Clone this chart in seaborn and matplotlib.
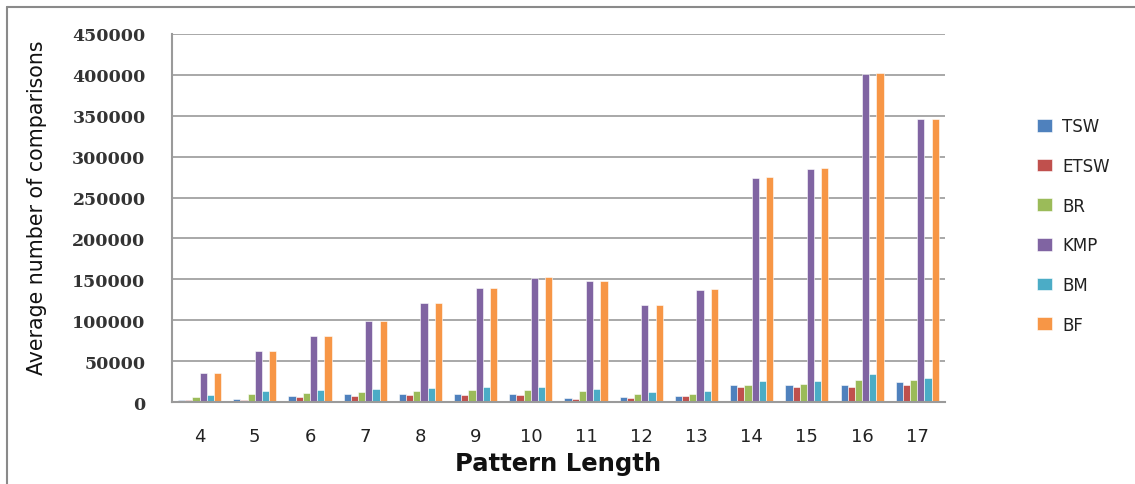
import pandas as pd
import matplotlib.pyplot as plt
import matplotlib.ticker as mticker
from matplotlib.lines import Line2D
import seaborn as sns
import numpy as np

# Data
lengths = [4, 5, 6, 7, 8, 9, 10, 11, 12, 13, 14, 15, 16, 17]
algos = ["TSW", "ETSW", "BR", "KMP", "BM", "BF"]

tsw = [2800, 3700, 7000, 9400, 10200, 9800, 9400, 4900, 6100, 7700, 20300, 20700, 20700, 24000]
etsw = [2500, 2000, 6500, 7700, 9000, 8100, 8100, 3700, 4900, 6900, 18300, 18300, 18700, 21100]
br = [5700, 9800, 11000, 12200, 13400, 14600, 14600, 13000, 9800, 10200, 20300, 21500, 27200, 26800]
kmp = [36000, 62000, 80500, 99500, 121000, 139500, 152000, 148000, 118500, 137500, 274000, 285000, 400500, 345500]
bm = [9000, 13000, 14200, 15400, 16700, 17900, 17900, 15900, 11800, 13000, 25600, 25600, 34600, 28900]
bf = [36000, 62000, 80500, 99500, 121000, 140000, 152500, 148500, 119000, 138000, 275000, 286000, 402000, 346500]

COLORS = ["#4F81BD", "#C0504D", "#9BBB59", "#8064A2", "#4BACC6", "#F79646"]

series = {"TSW": tsw, "ETSW": etsw, "BR": br, "KMP": kmp, "BM": bm, "BF": bf}
rows = []
for name, vals in series.items():
    for L, v in zip(lengths, vals):
        rows.append({"Pattern Length": str(L), "Algorithm": name, "Comparisons": v})
df = pd.DataFrame(rows)

sns.set_style("white")
plt.rcParams["font.family"] = ["DejaVu Sans"]

fig = plt.figure(figsize=(11.35, 4.85), dpi=100)
ax = fig.add_axes([0.1515, 0.169, 0.681, 0.759])

sns.barplot(data=df, x="Pattern Length", y="Comparisons", hue="Algorithm",
            hue_order=algos, palette=COLORS, width=0.78, ax=ax,
            edgecolor="white", linewidth=0.4, saturation=1)

ax.set_ylim(0, 450000)
ax.set_xlim(-0.5, len(lengths) - 0.5)
ax.yaxis.set_major_locator(mticker.MultipleLocator(50000))
ax.yaxis.grid(True, color="#999999", linewidth=1.2)
ax.set_axisbelow(True)

for s in ["top", "right"]:
    ax.spines[s].set_visible(False)
ax.spines["left"].set_color("#9a9a9a")
ax.spines["left"].set_linewidth(1.5)
ax.spines["bottom"].set_color("#9a9a9a")
ax.spines["bottom"].set_linewidth(1.5)

# tick marks between categories
ax.xaxis.set_minor_locator(mticker.FixedLocator(np.arange(-0.5, len(lengths), 1.0)))
ax.tick_params(axis="x", which="major", length=0, pad=18, labelsize=13, colors="#222222")
ax.tick_params(axis="x", which="minor", length=8, width=1.3, color="#9a9a9a", direction="out")
ax.tick_params(axis="y", length=7, width=1.3, color="#9a9a9a", direction="out", pad=12)
for lbl in ax.get_yticklabels():
    lbl.set_fontfamily("DejaVu Serif")
    lbl.set_fontweight("bold")
    lbl.set_fontsize(12.5)
    lbl.set_color("#333333")

ax.set_xlabel("Pattern Length", fontsize=17.5, fontweight="bold", labelpad=4, color="#111111")
ax.set_ylabel("Average number of comparisons", fontsize=14.8, color="#111111")
ax.yaxis.set_label_coords(-0.162, 0.53)

leg = ax.legend(loc="center left", bbox_to_anchor=(1.10, 0.48), frameon=False,
                fontsize=12, labelspacing=1.3, handlelength=0.9, handleheight=0.8,
                handletextpad=0.6)
for t in leg.get_texts():
    t.set_color("#222222")

# outer frame lines (top and left)
fig.add_artist(Line2D([0.006, 1.0], [0.983, 0.983], transform=fig.transFigure,
                      color="#8a8a8a", linewidth=1.5))
fig.add_artist(Line2D([0.006, 0.006], [0.0, 0.983], transform=fig.transFigure,
                      color="#8a8a8a", linewidth=1.5))

fig.savefig("out.png", dpi=100)
plt.close()
